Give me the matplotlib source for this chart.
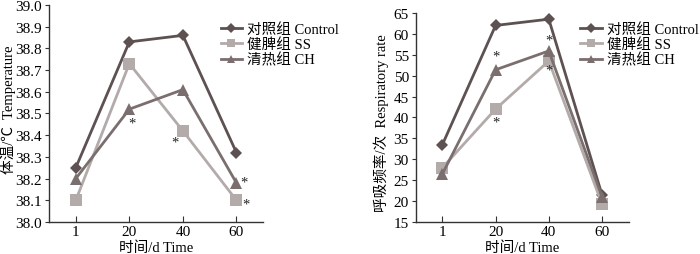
import matplotlib
matplotlib.use("Agg")
import matplotlib.pyplot as plt

plt.rcParams['font.family'] = ['Liberation Serif', 'Noto Sans CJK SC']
plt.rcParams['mathtext.fontset'] = 'stix'

days = ['1', '20', '40', '60']
series_names = ['对照组 Control', '健脾组 SS', '清热组 CH']

temp_control = [38.25, 38.83, 38.86, 38.32]
temp_ss = [38.10, 38.73, 38.42, 38.10]
temp_ch = [38.20, 38.52, 38.61, 38.18]

resp_control = [33.5, 62.0, 63.5, 21.5]
resp_ss = [28.0, 42.0, 53.5, 19.3]
resp_ch = [26.5, 51.4, 55.9, 21.0]

# significance asterisks: (category index + offset, y value)
temp_stars = [(1.05, 38.455), (1.85, 38.37), (3.15, 38.185), (3.18, 38.085)]
resp_stars = [(1.0, 54.6), (1.0, 39.0), (2.0, 58.6), (2.0, 51.3)]

colors = ['#5e5151', '#b3aaaa', '#7b6e6e']
markers = ['D', 's', '^']
msizes = [6, 8, 8]

fig = plt.figure(figsize=(7.0, 2.55), dpi=100)
ax1 = fig.add_axes([0.070, 0.1255, 0.306, 0.851])
ax2 = fig.add_axes([0.594, 0.1255, 0.304, 0.82])

x = list(range(len(days)))

def draw(ax, data, stars, ylim, yticks, yfmt, ylabel, legend_anchor, ylab_pos, xlab_pos):
    for vals, c, m, ms, name in zip(data, colors, markers, msizes, series_names):
        ax.plot(x, vals, color=c, marker=m, markersize=ms, linewidth=2.0,
                label=name, markeredgewidth=0)
    for sx, sy in stars:
        ax.text(sx, sy, '*', ha='center', va='center', fontsize=10.5, color='#222222')
    ax.set_xlim(-0.5, 3.5)
    ax.set_ylim(*ylim)
    ax.set_xticks(x)
    ax.set_xticklabels(days)
    ax.set_yticks(yticks)
    ax.set_yticklabels([yfmt.format(v) for v in yticks])
    ax.spines['top'].set_visible(False)
    ax.spines['right'].set_visible(False)
    for s in ['left', 'bottom']:
        ax.spines[s].set_color('#333333')
        ax.spines[s].set_linewidth(1.0)
    ax.tick_params(axis='x', direction='in', length=4, labelsize=11, pad=2, color='#333333')
    ax.tick_params(axis='y', direction='out', length=3, labelsize=11, pad=2, color='#333333')
    ax.set_xlabel('时间/d Time', fontsize=10.5)
    ax.xaxis.set_label_coords(*xlab_pos)
    ax.xaxis.label.set_va('center')
    ax.set_ylabel(ylabel, fontsize=10.5)
    ax.yaxis.set_label_coords(*ylab_pos)
    ax.yaxis.label.set_va('center')
    ax.legend(loc='upper left', bbox_to_anchor=legend_anchor, bbox_transform=fig.transFigure,
              frameon=False, fontsize=10.5, handlelength=1.5, handletextpad=0.35,
              labelspacing=0.1, borderpad=0, borderaxespad=0, markerscale=0.8)

draw(ax1, [temp_control, temp_ss, temp_ch], temp_stars, (38.0, 39.0),
     [38.0 + 0.1 * i for i in range(11)], '{:.1f}', '体温/℃  Temperature', (0.315, 0.91),
     (-0.19, 0.52), (0.5, -0.115))
draw(ax2, [resp_control, resp_ss, resp_ch], resp_stars, (15, 65),
     list(range(15, 66, 5)), '{:d}', '呼吸频率/次  Respiratory rate', (0.829, 0.91),
     (-0.16, 0.48), (0.5, -0.12))

fig.savefig('out.png', dpi=100)
